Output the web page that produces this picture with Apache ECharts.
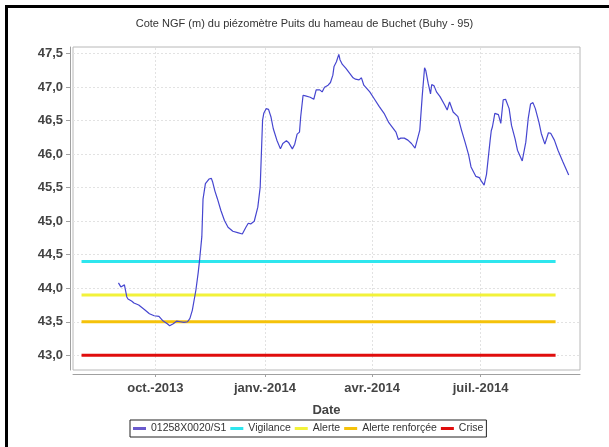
<!DOCTYPE html>
<html>
<head>
<meta charset="utf-8">
<script src="https://cdn.jsdelivr.net/npm/echarts@6/dist/echarts.min.js"></script>
<style>
html,body{margin:0;padding:0;background:#fff;overflow:hidden;}
#chart{width:609px;height:447px;}
</style>
</head>
<body>
<div id="chart"></div>
<script>
const titleText = 'Cote NGF (m) du piézomètre Puits du hameau de Buchet (Buhy - 95)';
const seriesName = '01258X0020/S1';
const levelDates = [
'2013-08-31','2013-09-02','2013-09-03','2013-09-05','2013-09-07','2013-09-08','2013-09-11','2013-09-13','2013-09-17','2013-09-22','2013-09-26','2013-09-30',
'2013-10-04','2013-10-07','2013-10-11','2013-10-13','2013-10-16','2013-10-19','2013-10-22','2013-10-25','2013-10-28','2013-10-30',
'2013-11-01','2013-11-04','2013-11-06','2013-11-07','2013-11-09','2013-11-10','2013-11-12','2013-11-15','2013-11-17','2013-11-18','2013-11-20','2013-11-22','2013-11-25','2013-11-28',
'2013-12-01','2013-12-05','2013-12-09','2013-12-13','2013-12-16','2013-12-18','2013-12-20','2013-12-23','2013-12-26','2013-12-28','2013-12-30','2013-12-31',
'2014-01-02','2014-01-04','2014-01-06','2014-01-08','2014-01-11','2014-01-14','2014-01-16','2014-01-19','2014-01-21','2014-01-24','2014-01-26','2014-01-28','2014-01-30','2014-01-31',
'2014-02-02','2014-02-04','2014-02-08','2014-02-11','2014-02-13','2014-02-16','2014-02-18','2014-02-20','2014-02-23','2014-02-25','2014-02-27','2014-02-28',
'2014-03-02','2014-03-04','2014-03-05','2014-03-07','2014-03-10','2014-03-13','2014-03-16','2014-03-18','2014-03-21','2014-03-23','2014-03-25','2014-03-30',
'2014-04-03','2014-04-07','2014-04-11','2014-04-15','2014-04-18','2014-04-21','2014-04-23','2014-04-25','2014-04-28',
'2014-05-01','2014-05-04','2014-05-07','2014-05-11','2014-05-13','2014-05-15','2014-05-16','2014-05-18','2014-05-20','2014-05-21','2014-05-23','2014-05-25','2014-05-28',
'2014-06-01','2014-06-03','2014-06-05','2014-06-06','2014-06-08','2014-06-12','2014-06-15','2014-06-18','2014-06-21','2014-06-23','2014-06-27','2014-06-30',
'2014-07-02','2014-07-04','2014-07-06','2014-07-09','2014-07-10','2014-07-11','2014-07-13','2014-07-16','2014-07-18','2014-07-20','2014-07-22','2014-07-25','2014-07-27','2014-07-30',
'2014-08-01','2014-08-05','2014-08-08','2014-08-10','2014-08-12','2014-08-14','2014-08-16','2014-08-19','2014-08-21','2014-08-24','2014-08-27','2014-08-29',
'2014-09-01','2014-09-04','2014-09-08','2014-09-13'
];
const levelValues = [
44.08,44.02,44.04,44.05,43.87,43.84,43.81,43.78,43.75,43.68,43.62,43.59,
43.58,43.52,43.47,43.44,43.47,43.51,43.50,43.49,43.50,43.55,
43.67,43.97,44.24,44.40,44.77,45.33,45.56,45.63,45.64,45.59,45.45,45.34,45.16,45.01,
44.91,44.85,44.83,44.81,44.91,44.97,44.96,45.00,45.21,45.51,46.51,46.61,
46.68,46.67,46.56,46.38,46.21,46.08,46.16,46.20,46.17,46.08,46.15,46.30,46.33,46.56,
46.88,46.87,46.85,46.82,46.96,46.96,46.93,47.00,47.03,47.07,47.18,47.31,
47.38,47.49,47.41,47.34,47.28,47.21,47.14,47.12,47.11,47.14,47.03,46.93,
46.82,46.71,46.61,46.47,46.40,46.33,46.22,46.24,46.24,
46.21,46.16,46.09,46.36,46.86,47.29,47.25,47.06,46.90,47.04,47.02,46.93,46.86,
46.73,46.66,46.78,46.77,46.63,46.56,46.36,46.18,45.99,45.81,45.67,45.65,
45.59,45.54,45.70,46.20,46.35,46.41,46.61,46.59,46.46,46.81,46.82,46.68,46.43,46.23,
46.06,45.90,46.18,46.53,46.75,46.77,46.68,46.48,46.31,46.15,46.32,46.31,
46.21,46.06,45.89,45.69
];
const thresholdNames = ['Vigilance', 'Alerte', 'Alerte renforçée', 'Crise'];
const thresholdValues = [44.4, 43.9, 43.5, 43.0];
const thresholdColors = ['#2ee6ee', '#f2f23a', '#f5c20a', '#e00d0d'];
const thresholdStart = '2013-07-31';
const thresholdEnd = '2014-09-02';
const xTickDates = ['2013-10-01', '2014-01-01', '2014-04-01', '2014-07-01'];
const xTickLabels = ['oct.-2013', 'janv.-2014', 'avr.-2014', 'juil.-2014'];
const yTicks = [43.0, 43.5, 44.0, 44.5, 45.0, 45.5, 46.0, 46.5, 47.0, 47.5];
const xMin = '2013-07-23T20:00:00';
const xMax = '2014-09-22T12:00:00';
const yMin = 42.78;
const yMax = 47.6;

function ts(s) {
  const p = s.split(/[-T:]/).map(Number);
  return Date.UTC(p[0], p[1] - 1, p[2], p[3] || 0, p[4] || 0, p[5] || 0);
}
const xTickTs = xTickDates.map(ts);

const chart = echarts.init(document.getElementById('chart'), null, {renderer: 'canvas'});

const series = [];
series.push({
  name: seriesName, type: 'line', showSymbol: false, symbol: 'none', z: 4,
  lineStyle: {color: '#4646d0', width: 1.2},
  itemStyle: {color: '#6a5acd'},
  data: levelDates.map((d, i) => [ts(d), levelValues[i]])
});
thresholdNames.forEach((n, i) => {
  series.push({
    name: n, type: 'line', showSymbol: false, symbol: 'none', z: 3,
    lineStyle: {color: thresholdColors[i], width: 3},
    itemStyle: {color: thresholdColors[i]},
    data: [[ts(thresholdStart), thresholdValues[i]], [ts(thresholdEnd), thresholdValues[i]]]
  });
});
// grid lines, placed through the axes from the tick values
series.push({
  name: '_grid', type: 'line', data: [], silent: true, z: 0,
  markLine: {
    silent: true, symbol: 'none', animation: false, z: 0,
    label: {show: false},
    lineStyle: {color: '#e2e2e2', type: [2, 2], width: 1},
    data: yTicks.map(v => ({yAxis: v})).concat(xTickTs.map(t => ({xAxis: t})))
  }
});

const labelFont = {fontFamily: 'Liberation Sans, Arial, sans-serif', fontWeight: 'bold', fontSize: 13, color: '#444'};

chart.setOption({
  animation: false,
  backgroundColor: '#fff',
  title: {
    text: titleText, left: 'center', top: 13,
    textStyle: {fontFamily: 'Liberation Sans, Arial, sans-serif', fontWeight: 'normal', fontSize: 11, color: '#333'}
  },
  grid: {left: 73, right: 29, top: 47, bottom: 77, show: true, borderColor: '#b8b8b8', borderWidth: 1, backgroundColor: 'transparent'},
  legend: {
    left: 130, top: 420,
    data: [seriesName].concat(thresholdNames),
    icon: 'rect', itemWidth: 13, itemHeight: 3, itemGap: 4,
    borderColor: '#222', borderWidth: 1, padding: [3, 3],
    textStyle: {fontFamily: 'Liberation Sans, Arial, sans-serif', fontSize: 10.5, color: '#333'}
  },
  xAxis: {
    type: 'value', min: ts(xMin), max: ts(xMax),
    offset: 4,
    name: 'Date', nameLocation: 'middle', nameGap: 30,
    nameTextStyle: labelFont,
    axisLine: {show: true, lineStyle: {color: '#a0a0a0', width: 1}},
    axisTick: {show: true, length: 3, lineStyle: {color: '#a0a0a0'}, customValues: xTickTs},
    axisLabel: Object.assign({customValues: xTickTs, margin: 8, hideOverlap: false, showMinLabel: true, showMaxLabel: true,
      formatter: function (v) {
        for (let i = 0; i < xTickTs.length; i++) { if (Math.abs(xTickTs[i] - v) < 3600000) return xTickLabels[i]; }
        return '';
      }}, labelFont),
    splitLine: {show: false}
  },
  yAxis: {
    type: 'value', min: yMin, max: yMax,
    offset: 3,
    axisLine: {show: true, lineStyle: {color: '#a0a0a0', width: 1}},
    axisTick: {show: true, length: 4, lineStyle: {color: '#a0a0a0'}, customValues: yTicks},
    axisLabel: Object.assign({customValues: yTicks, margin: 7, showMinLabel: true, showMaxLabel: true,
      formatter: function (v) { return v.toFixed(1).replace('.', ','); }}, labelFont),
    splitLine: {show: false}
  },
  graphic: [
    {type: 'polyline', shape: {points: [[6.5, 447], [6.5, 6.5], [609, 6.5]]}, style: {stroke: '#000', lineWidth: 3, fill: null}, z: 100}
  ],
  series: series
});
</script>
</body>
</html>
